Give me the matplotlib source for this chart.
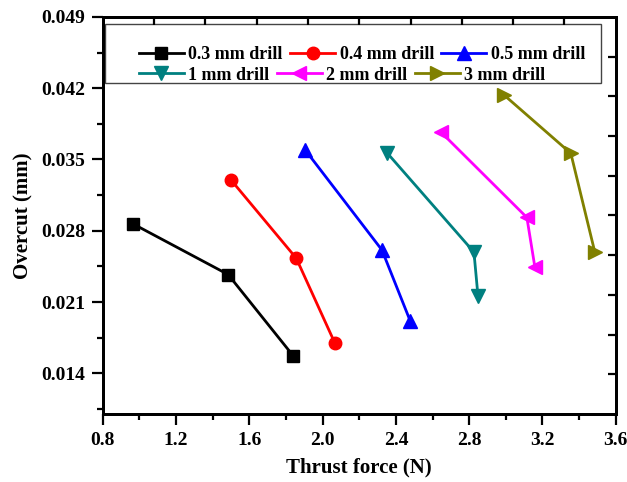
import numpy as np
import matplotlib
matplotlib.use('Agg')
import matplotlib.pyplot as plt
from matplotlib.patches import Rectangle

plt.rcParams['font.family'] = 'Liberation Serif'
plt.rcParams['font.weight'] = 'bold'

# thrust force (N) and overcut (mm)
labels = ['0.3 mm drill', '0.4 mm drill', '0.5 mm drill', '1 mm drill', '2 mm drill', '3 mm drill']
force_03 = [0.962, 1.484, 1.840]
cut_03 = [0.0287, 0.0237, 0.0157]
force_04 = [1.499, 1.856, 2.066]
cut_04 = [0.0330, 0.0253, 0.0170]
force_05 = [1.906, 2.324, 2.479]
cut_05 = [0.0359, 0.0261, 0.0191]
force_1 = [2.354, 2.826, 2.848]
cut_1 = [0.0356, 0.0259, 0.0216]
force_2 = [2.645, 3.115, 3.159]
cut_2 = [0.0377, 0.0293, 0.0244]
force_3 = [2.992, 3.355, 3.486]
cut_3 = [0.0413, 0.0356, 0.0259]

forces = [force_03, force_04, force_05, force_1, force_2, force_3]
cuts = [cut_03, cut_04, cut_05, cut_1, cut_2, cut_3]
colors = ['black', '#FF0000', '#0000FF', '#008080', '#FF00FF', '#808000']
markers = ['s', 'o', '^', 'v', '<', '>']
msizes = [8, 9, 10, 10, 10, 10]

fig = plt.figure(figsize=(6.27, 4.82), dpi=100)
ax = fig.add_axes([0.164, 0.141, 0.818, 0.824])

lines = []
for f, c, col, m, ms, lab in zip(forces, cuts, colors, markers, msizes, labels):
    l, = ax.plot(f, c, color=col, marker=m, markersize=ms, linewidth=2, label=lab)
    lines.append(l)

ax.set_xlim(0.8, 3.6)
ax.set_ylim(0.010, 0.049)
ax.set_xticks(np.arange(0.8, 3.61, 0.4))
ax.set_xticks(np.arange(1.0, 3.6, 0.4), minor=True)
ax.set_yticks([0.014, 0.021, 0.028, 0.035, 0.042, 0.049])
ax.set_yticks([0.0105, 0.0175, 0.0245, 0.0315, 0.0385, 0.0455], minor=True)
ax.xaxis.set_major_formatter(plt.FormatStrFormatter('%.1f'))
ax.yaxis.set_major_formatter(plt.FormatStrFormatter('%.3f'))
ax.tick_params(which='major', direction='out', length=8, width=1.6, labelsize=14, pad=5)
ax.tick_params(which='minor', direction='out', length=4.5, width=1.6)
for s in ax.spines.values():
    s.set_linewidth(2)

ax.set_xlabel('Thrust force (N)', fontsize=15, fontweight='bold', labelpad=6)
ax.set_ylabel('Overcut (mm)', fontsize=15, fontweight='bold', labelpad=5)

# top and right axes have their own ticks, 10 divisions, pointing in
axt = ax.twiny()
axt.set_xlim(0, 10)
axt.set_xticks(np.arange(1, 10))
axt.tick_params(direction='in', length=6, width=1.6, labeltop=False)
axr = ax.twinx()
axr.set_ylim(0, 10)
axr.set_yticks(np.arange(1, 10))
axr.tick_params(direction='in', length=6, width=1.6, labelright=False)
for a in (axt, axr):
    for s in a.spines.values():
        s.set_linewidth(2)

# legend box
ax.add_patch(Rectangle((0.004, 0.834), 0.967, 0.148, transform=ax.transAxes,
                       fill=False, edgecolor='#444444', linewidth=1, zorder=5))
leg1 = ax.legend(lines[:3], labels[:3], ncol=3, frameon=False, loc='center left',
                 bbox_to_anchor=(0.070, 0.905), fontsize=13, handlelength=2.5,
                 handletextpad=0.25, columnspacing=0.4, borderpad=0, borderaxespad=0)
ax.add_artist(leg1)
ax.legend(lines[3:], labels[3:], ncol=3, frameon=False, loc='center left',
          bbox_to_anchor=(0.070, 0.853), fontsize=13, handlelength=2.5,
          handletextpad=0.25, columnspacing=0.4, borderpad=0, borderaxespad=0)

fig.savefig('out.png', dpi=100)
